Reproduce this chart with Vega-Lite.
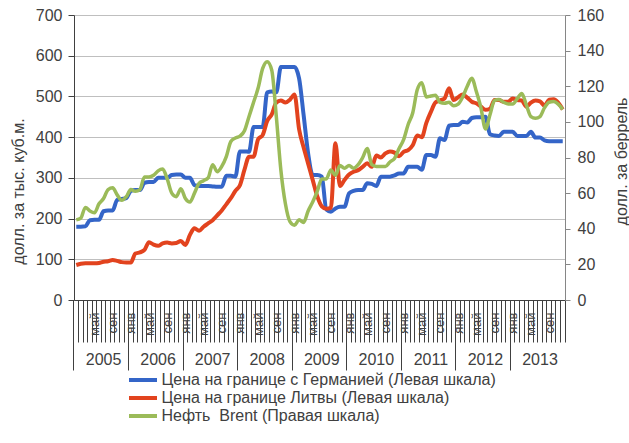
{
  "$schema": "https://vega.github.io/schema/vega-lite/v6.json",
  "width": 491,
  "height": 285,
  "autosize": {"type": "none"},
  "padding": {"left": 74, "top": 15, "right": 64, "bottom": 143},
  "background": "white",
  "config": {
    "view": {"stroke": null},
    "font": "Liberation Sans",
    "axis": {"labelColor": "#404040", "titleColor": "#404040", "labelFont": "Liberation Sans", "titleFont": "Liberation Sans", "titleFontWeight": "normal"}
  },
  "data": {
    "values": [
      {"month": "2005-01", "germany": 180, "lithuania": 86, "brent": 45},
      {"month": "2005-02", "germany": 180, "lithuania": 89, "brent": 46},
      {"month": "2005-03", "germany": 181, "lithuania": 90, "brent": 52},
      {"month": "2005-04", "germany": 196, "lithuania": 90, "brent": 50},
      {"month": "2005-05", "germany": 197, "lithuania": 90, "brent": 49},
      {"month": "2005-06", "germany": 197, "lithuania": 91, "brent": 54},
      {"month": "2005-07", "germany": 218, "lithuania": 94, "brent": 57},
      {"month": "2005-08", "germany": 220, "lithuania": 95, "brent": 62},
      {"month": "2005-09", "germany": 220, "lithuania": 98, "brent": 63},
      {"month": "2005-10", "germany": 246, "lithuania": 96, "brent": 59},
      {"month": "2005-11", "germany": 248, "lithuania": 93, "brent": 56},
      {"month": "2005-12", "germany": 250, "lithuania": 92, "brent": 58},
      {"month": "2006-01", "germany": 268, "lithuania": 92, "brent": 62},
      {"month": "2006-02", "germany": 270, "lithuania": 114, "brent": 61},
      {"month": "2006-03", "germany": 270, "lithuania": 117, "brent": 62},
      {"month": "2006-04", "germany": 288, "lithuania": 123, "brent": 69},
      {"month": "2006-05", "germany": 290, "lithuania": 142, "brent": 69},
      {"month": "2006-06", "germany": 290, "lithuania": 136, "brent": 70},
      {"month": "2006-07", "germany": 300, "lithuania": 133, "brent": 72.5},
      {"month": "2006-08", "germany": 300, "lithuania": 139, "brent": 73.5},
      {"month": "2006-09", "germany": 300, "lithuania": 141, "brent": 68},
      {"month": "2006-10", "germany": 307, "lithuania": 139, "brent": 60},
      {"month": "2006-11", "germany": 308, "lithuania": 140, "brent": 58},
      {"month": "2006-12", "germany": 308, "lithuania": 145, "brent": 62.5},
      {"month": "2007-01", "germany": 300, "lithuania": 135, "brent": 57},
      {"month": "2007-02", "germany": 300, "lithuania": 160, "brent": 55},
      {"month": "2007-03", "germany": 282, "lithuania": 176, "brent": 60},
      {"month": "2007-04", "germany": 280, "lithuania": 170, "brent": 65.5},
      {"month": "2007-05", "germany": 280, "lithuania": 180, "brent": 67},
      {"month": "2007-06", "germany": 280, "lithuania": 188, "brent": 68.5},
      {"month": "2007-07", "germany": 279, "lithuania": 196, "brent": 76},
      {"month": "2007-08", "germany": 278, "lithuania": 208, "brent": 72},
      {"month": "2007-09", "germany": 278, "lithuania": 220, "brent": 75},
      {"month": "2007-10", "germany": 305, "lithuania": 235, "brent": 80.5},
      {"month": "2007-11", "germany": 305, "lithuania": 250, "brent": 89},
      {"month": "2007-12", "germany": 303, "lithuania": 268, "brent": 91},
      {"month": "2008-01", "germany": 365, "lithuania": 282, "brent": 92},
      {"month": "2008-02", "germany": 365, "lithuania": 320, "brent": 95},
      {"month": "2008-03", "germany": 364, "lithuania": 352, "brent": 103},
      {"month": "2008-04", "germany": 425, "lithuania": 352, "brent": 111},
      {"month": "2008-05", "germany": 425, "lithuania": 395, "brent": 119},
      {"month": "2008-06", "germany": 425, "lithuania": 405, "brent": 130},
      {"month": "2008-07", "germany": 510, "lithuania": 440, "brent": 133.8},
      {"month": "2008-08", "germany": 512, "lithuania": 456, "brent": 129},
      {"month": "2008-09", "germany": 510, "lithuania": 485, "brent": 103},
      {"month": "2008-10", "germany": 572, "lithuania": 490, "brent": 73},
      {"month": "2008-11", "germany": 572, "lithuania": 485, "brent": 54},
      {"month": "2008-12", "germany": 572, "lithuania": 492, "brent": 44},
      {"month": "2009-01", "germany": 572, "lithuania": 505, "brent": 42},
      {"month": "2009-02", "germany": 545, "lithuania": 420, "brent": 45},
      {"month": "2009-03", "germany": 455, "lithuania": 375, "brent": 43.5},
      {"month": "2009-04", "germany": 360, "lithuania": 335, "brent": 50},
      {"month": "2009-05", "germany": 307, "lithuania": 295, "brent": 55},
      {"month": "2009-06", "germany": 307, "lithuania": 255, "brent": 61},
      {"month": "2009-07", "germany": 303, "lithuania": 230, "brent": 68},
      {"month": "2009-08", "germany": 222, "lithuania": 224, "brent": 68},
      {"month": "2009-09", "germany": 217, "lithuania": 226, "brent": 73},
      {"month": "2009-10", "germany": 225, "lithuania": 385, "brent": 70},
      {"month": "2009-11", "germany": 229, "lithuania": 280, "brent": 75.5},
      {"month": "2009-12", "germany": 229, "lithuania": 295, "brent": 74},
      {"month": "2010-01", "germany": 262, "lithuania": 308, "brent": 75.5},
      {"month": "2010-02", "germany": 268, "lithuania": 315, "brent": 74},
      {"month": "2010-03", "germany": 270, "lithuania": 319, "brent": 76},
      {"month": "2010-04", "germany": 270, "lithuania": 327, "brent": 80},
      {"month": "2010-05", "germany": 287, "lithuania": 336, "brent": 85},
      {"month": "2010-06", "germany": 285, "lithuania": 327, "brent": 76},
      {"month": "2010-07", "germany": 280, "lithuania": 355, "brent": 75},
      {"month": "2010-08", "germany": 303, "lithuania": 350, "brent": 75},
      {"month": "2010-09", "germany": 303, "lithuania": 360, "brent": 75},
      {"month": "2010-10", "germany": 303, "lithuania": 365, "brent": 77.5},
      {"month": "2010-11", "germany": 306, "lithuania": 362, "brent": 79.5},
      {"month": "2010-12", "germany": 311, "lithuania": 353, "brent": 85},
      {"month": "2011-01", "germany": 311, "lithuania": 364, "brent": 90},
      {"month": "2011-02", "germany": 327, "lithuania": 368, "brent": 98.5},
      {"month": "2011-03", "germany": 327, "lithuania": 380, "brent": 105},
      {"month": "2011-04", "germany": 327, "lithuania": 404, "brent": 118},
      {"month": "2011-05", "germany": 320, "lithuania": 400, "brent": 122},
      {"month": "2011-06", "germany": 356, "lithuania": 435, "brent": 114},
      {"month": "2011-07", "germany": 356, "lithuania": 462, "brent": 114.5},
      {"month": "2011-08", "germany": 352, "lithuania": 485, "brent": 115},
      {"month": "2011-09", "germany": 397, "lithuania": 490, "brent": 111},
      {"month": "2011-10", "germany": 393, "lithuania": 495, "brent": 110.5},
      {"month": "2011-11", "germany": 428, "lithuania": 520, "brent": 111},
      {"month": "2011-12", "germany": 430, "lithuania": 491, "brent": 109},
      {"month": "2012-01", "germany": 430, "lithuania": 498, "brent": 110},
      {"month": "2012-02", "germany": 438, "lithuania": 505, "brent": 114},
      {"month": "2012-03", "germany": 436, "lithuania": 497, "brent": 120},
      {"month": "2012-04", "germany": 447, "lithuania": 487, "brent": 124.5},
      {"month": "2012-05", "germany": 449, "lithuania": 483, "brent": 117},
      {"month": "2012-06", "germany": 449, "lithuania": 475, "brent": 108},
      {"month": "2012-07", "germany": 450, "lithuania": 467, "brent": 96},
      {"month": "2012-08", "germany": 407, "lithuania": 470, "brent": 104},
      {"month": "2012-09", "germany": 404, "lithuania": 491, "brent": 112},
      {"month": "2012-10", "germany": 403, "lithuania": 491, "brent": 112.5},
      {"month": "2012-11", "germany": 413, "lithuania": 487, "brent": 111},
      {"month": "2012-12", "germany": 413, "lithuania": 487, "brent": 110},
      {"month": "2013-01", "germany": 413, "lithuania": 495, "brent": 110},
      {"month": "2013-02", "germany": 403, "lithuania": 491, "brent": 113},
      {"month": "2013-03", "germany": 403, "lithuania": 490, "brent": 116},
      {"month": "2013-04", "germany": 403, "lithuania": 475, "brent": 109.5},
      {"month": "2013-05", "germany": 413, "lithuania": 485, "brent": 103},
      {"month": "2013-06", "germany": 399, "lithuania": 490, "brent": 102},
      {"month": "2013-07", "germany": 399, "lithuania": 488, "brent": 103},
      {"month": "2013-08", "germany": 392, "lithuania": 477, "brent": 108},
      {"month": "2013-09", "germany": 390, "lithuania": 492, "brent": 111},
      {"month": "2013-10", "germany": 390, "lithuania": 493, "brent": 111.4},
      {"month": "2013-11", "germany": 390, "lithuania": 485, "brent": 110},
      {"month": "2013-12", "germany": 390, "lithuania": 468, "brent": 107}
    ]
  },
  "resolve": {"scale": {"y": "independent"}, "axis": {"x": "independent"}},
  "layer": [
    {
      "mark": {"type": "line", "interpolate": "monotone", "strokeWidth": 4},
      "encoding": {
        "x": {
          "field": "month", "type": "ordinal",
          "scale": {"type": "band", "paddingInner": 0, "paddingOuter": 0},
          "axis": {
            "orient": "bottom", "title": null, "grid": false, "labels": false,
            "bandPosition": 0,
            "tickSize": {"condition": {"test": "substring(datum.value, 5, 7) == '01'", "value": 70}, "value": 42},
            "tickColor": "#404040", "tickWidth": 1,
            "domain": true, "domainColor": "#404040", "domainWidth": 1
          }
        },
        "y": {
          "field": "germany", "type": "quantitative",
          "scale": {"domain": [0, 700], "nice": false},
          "axis": {
            "orient": "left", "values": [0, 100, 200, 300, 400, 500, 600, 700],
            "grid": true, "gridColor": "#BFBFBF", "gridWidth": 1,
            "domainColor": "#404040", "tickColor": "#404040", "tickSize": 6,
            "labelFontSize": 16, "labelPadding": 6,
            "title": "долл. за тыс. куб.м.", "titleFontSize": 16,
            "titleAngle": 270, "titleAlign": "center", "titleBaseline": "middle",
            "titleX": -56, "titleY": 176
          }
        },
        "color": {
          "datum": "Цена на границе с Германией (Левая шкала)",
          "scale": {
            "domain": ["Цена на границе с Германией (Левая шкала)", "Цена на границе Литвы (Левая шкала)", "Нефть\u00a0 Brent (Правая шкала)"],
            "range": ["#3465C8", "#E2431E", "#9BBB59"]
          },
          "legend": {
            "orient": "none", "legendX": 61, "legendY": 357, "direction": "vertical",
            "title": null, "padding": 0, "symbolType": "M-3,0H3", "symbolStrokeWidth": 4,
            "symbolSize": 87, "labelFontSize": 16, "labelColor": "#404040",
            "labelOffset": 10.5, "rowPadding": 2, "labelLimit": 0, "labelFont": "Liberation Sans"
          }
        }
      }
    },
    {
      "mark": {"type": "line", "interpolate": "monotone", "strokeWidth": 4},
      "encoding": {
        "x": {
          "field": "month", "type": "ordinal",
          "scale": {"type": "band", "paddingInner": 0, "paddingOuter": 0},
          "axis": {
            "orient": "bottom", "title": null, "grid": false, "domain": false,
            "ticks": true, "tickColor": "#404040", "tickWidth": 1,
            "tickSize": {"condition": {"test": "datum.value == '2013-12'", "value": 42}, "value": 0},
            "tickOffset": 2.27, "labelOffset": -2.27,
            "values": ["2005-01", "2005-05", "2005-09", "2006-01", "2006-05", "2006-09", "2007-01", "2007-05", "2007-09", "2008-01", "2008-05", "2008-09", "2009-01", "2009-05", "2009-09", "2010-01", "2010-05", "2010-09", "2011-01", "2011-05", "2011-09", "2012-01", "2012-05", "2012-09", "2013-01", "2013-05", "2013-09", "2013-12"],
            "labelExpr": "substring(datum.value, 5, 7) == '01' ? 'янв' : substring(datum.value, 5, 7) == '05' ? 'май' : substring(datum.value, 5, 7) == '09' ? 'сен' : ''",
            "labelAngle": 270, "labelAlign": "right", "labelBaseline": "middle",
            "labelFontSize": 13, "labelPadding": 12, "labelOverlap": false, "labelBound": 40, "labelFlush": false
          }
        },
        "y": {
          "field": "lithuania", "type": "quantitative",
          "scale": {"domain": [0, 700], "nice": false},
          "axis": null
        },
        "color": {"datum": "Цена на границе Литвы (Левая шкала)"}
      }
    },
    {
      "mark": {"type": "line", "interpolate": "monotone", "strokeWidth": 3.5},
      "encoding": {
        "x": {
          "field": "month", "type": "ordinal",
          "scale": {"type": "band", "paddingInner": 0, "paddingOuter": 0},
          "axis": {
            "orient": "bottom", "title": null, "grid": false, "domain": false,
            "ticks": false, "tickSize": 0,
            "values": ["2005-07", "2006-07", "2007-07", "2008-07", "2009-07", "2010-07", "2011-07", "2012-07", "2013-07"],
            "bandPosition": 0,
            "labelExpr": "substring(datum.value, 0, 4)",
            "labelAngle": 0, "labelAlign": "center", "labelBaseline": "top",
            "labelPadding": 51, "labelFontSize": 16,
            "labelOverlap": false, "labelBound": false, "labelFlush": false
          }
        },
        "y": {
          "field": "brent", "type": "quantitative",
          "scale": {"domain": [0, 160], "nice": false},
          "axis": {
            "orient": "right", "values": [0, 20, 40, 60, 80, 100, 120, 140, 160],
            "grid": false, "domainColor": "#868686", "tickColor": "#868686", "tickSize": 5,
            "labelFontSize": 16, "labelPadding": 7,
            "title": "долл. за беррель", "titleFontSize": 16,
            "titleAngle": 270, "titleAlign": "center", "titleBaseline": "middle",
            "titleX": 56, "titleY": 146
          }
        },
        "color": {"datum": "Нефть\u00a0 Brent (Правая шкала)"}
      }
    }
  ]
}
